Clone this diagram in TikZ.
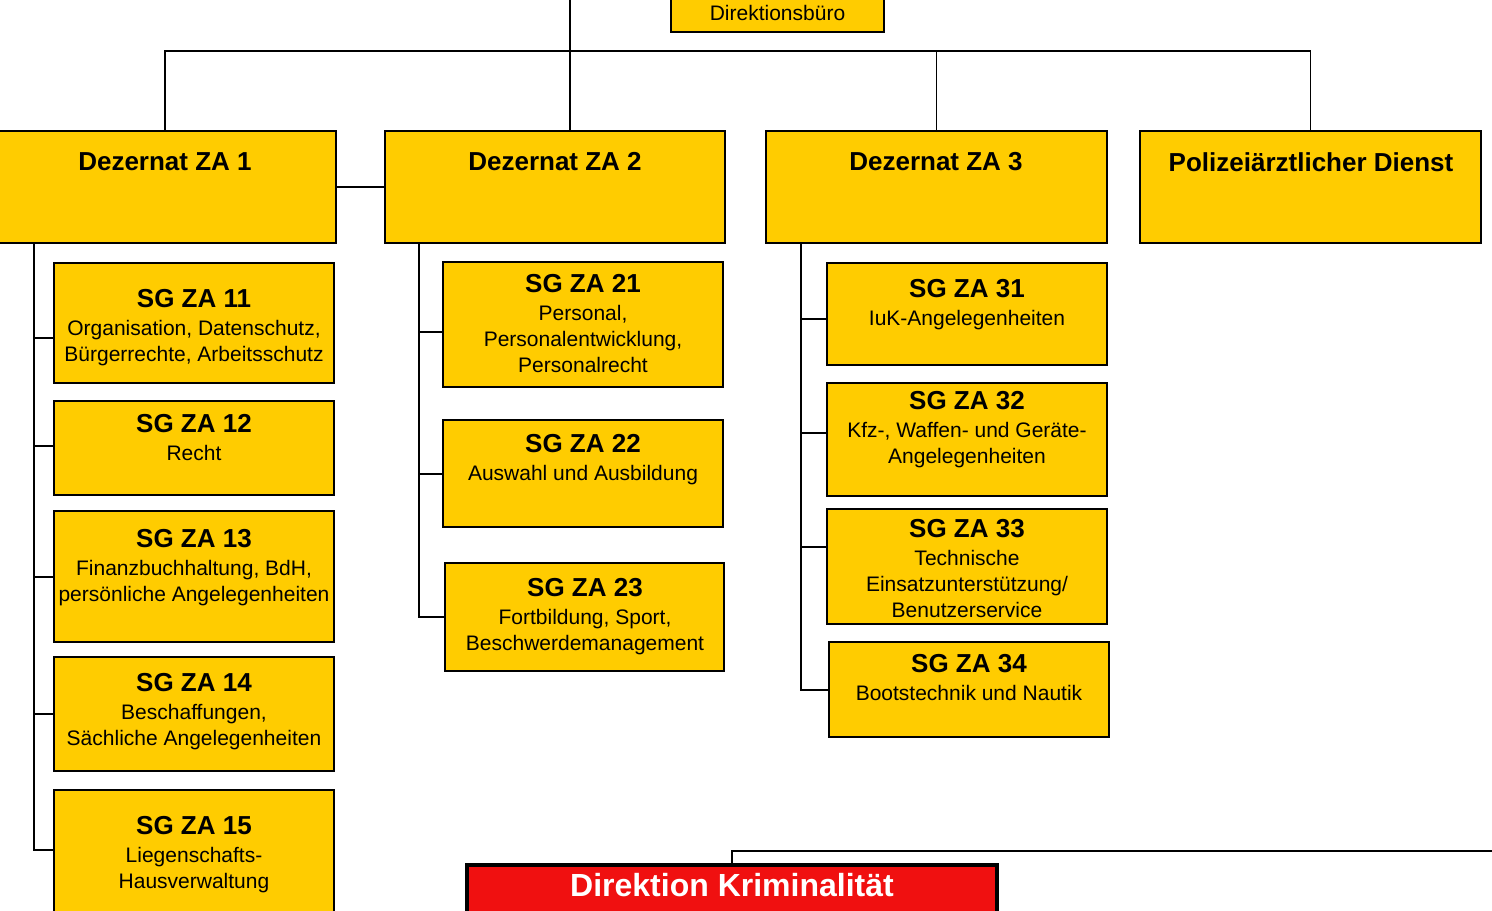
\documentclass[tikz,border=0pt]{standalone}
\usepackage{fontspec}
\setmainfont{Liberation Sans}
\usetikzlibrary{fit}
\definecolor{gelb}{HTML}{FFCC00}
\definecolor{rot}{HTML}{F01010}
\newcommand{\sgtitel}[1]{{\fontsize{13}{15}\selectfont\bfseries SG ZA #1}}

\begin{document}
\begin{tikzpicture}[x=0.5pt, y=-0.5pt,
    box/.style={draw, fill=gelb, line width=1pt, inner sep=0pt, fit={#1}}, % Kasten aus zwei Ecken
    head/.style={inner sep=0pt, font=\fontsize{13}{15}\selectfont\bfseries},
    sgtext/.style={anchor=north, align=center, inner sep=0pt, font=\fontsize{10.5}{13}\selectfont},
    conn/.style={line width=1pt},
    bus/.style={line width=0.8pt}
    ]
\useasboundingbox (0,0) rectangle (1492,910);
\clip (0,0) rectangle (1492,910);

\node[box={(671,-10) (884,32)}] (buero) {};
\node[inner sep=0pt, font=\fontsize{10.5}{13}\selectfont] (buerot) at (777.5,13) {Direktionsbüro};

\node[box={(-6,131) (336,243)}] (za1) {};
\node[box={(385,131) (725,243)}] (za2) {};
\node[box={(766,131) (1107,243)}] (za3) {};
\node[box={(1140,131) (1481,243)}] (pol) {};
\node[head] (za1t) at (165,162) {Dezernat ZA 1};
\node[head] (za2t) at (555,162) {Dezernat ZA 2};
\node[head] (za3t) at (936,162) {Dezernat ZA 3};
\node[head] (polt) at (1311,162) {Polizeiärztlicher Dienst};

\coordinate (oben) at (570,0);
\coordinate (bus) at (570,51);
\draw[bus] (oben) -- (oben |- za2.north);
\draw[bus] (bus) -| (za1.north);
\draw[bus] (bus) -| (za3.north);
\draw[bus] (bus) -| (pol.north);
\draw[conn] (za1.east) -- (za2.west);

\node[box={(54,263) (334,383)}] (sg11) {};
\node[box={(54,401) (334,495)}] (sg12) {};
\node[box={(54,511) (334,642)}] (sg13) {};
\node[box={(54,657) (334,771)}] (sg14) {};
\node[box={(54,790) (334,930)}] (sg15) {};
\node[sgtext] (sg11t) at (194,289) {\sgtitel{11}\\[1pt]Organisation, Datenschutz,\\Bürgerrechte, Arbeitsschutz};
\node[sgtext] (sg12t) at (194,414) {\sgtitel{12}\\[1pt]Recht};
\node[sgtext] (sg13t) at (194,529) {\sgtitel{13}\\[1pt]Finanzbuchhaltung, BdH,\\persönliche Angelegenheiten};
\node[sgtext] (sg14t) at (194,673) {\sgtitel{14}\\[1pt]Beschaffungen,\\Sächliche Angelegenheiten};
\node[sgtext] (sg15t) at (194,816) {\sgtitel{15}\\[1pt]Liegenschafts-\\Hausverwaltung};

\node[box={(443,262) (723,387)}] (sg21) {};
\node[box={(443,420) (723,527)}] (sg22) {};
\node[box={(445,563) (724,671)}] (sg23) {};
\node[sgtext] (sg21t) at (583,274) {\sgtitel{21}\\[1pt]Personal,\\Personalentwicklung,\\Personalrecht};
\node[sgtext] (sg22t) at (583,434) {\sgtitel{22}\\[1pt]Auswahl und Ausbildung};
\node[sgtext] (sg23t) at (585,578) {\sgtitel{23}\\[1pt]Fortbildung, Sport,\\Beschwerdemanagement};

\node[box={(827,263) (1107,365)}] (sg31) {};
\node[box={(827,383) (1107,496)}] (sg32) {};
\node[box={(827,509) (1107,624)}] (sg33) {};
\node[box={(829,642) (1109,737)}] (sg34) {};
\node[sgtext] (sg31t) at (967,279) {\sgtitel{31}\\[1pt]IuK-Angelegenheiten};
\node[sgtext] (sg32t) at (967,391) {\sgtitel{32}\\[1pt]Kfz-, Waffen- und Geräte-\\Angelegenheiten};
\node[sgtext] (sg33t) at (967,519) {\sgtitel{33}\\[1pt]Technische\\Einsatzunterstützung/\\Benutzerservice};
\node[sgtext] (sg34t) at (969,654) {\sgtitel{34}\\[1pt]Bootstechnik und Nautik};

\coordinate (sp1) at (34,243);
\coordinate (sp2) at (419,243);
\coordinate (sp3) at (801,243);
\foreach \n/\d in {11/-7.5,12/1,13/0,14/0,15/5}
    \draw[conn] (sp1) |- ([yshift=\d pt]sg\n.west);
\foreach \n/\d in {21/-3.75,22/0,23/0}
    \draw[conn] (sp2) |- ([yshift=\d pt]sg\n.west);
\foreach \n/\d in {31/-2.5,32/3.25,33/10,34/0}
    \draw[conn] (sp3) |- ([yshift=\d pt]sg\n.west);

\node[box={(467,865) (997,930)}, fill=rot, line width=1.8pt] (dk) {};
\node[inner sep=0pt, text=white, font=\fontsize{16}{18}\selectfont\bfseries] (dkt) at (732,885) {Direktion Kriminalität};
\coordinate (rechts) at (1500,851);
\draw[bus] (dk.north) |- (rechts);
\end{tikzpicture}
\end{document}
